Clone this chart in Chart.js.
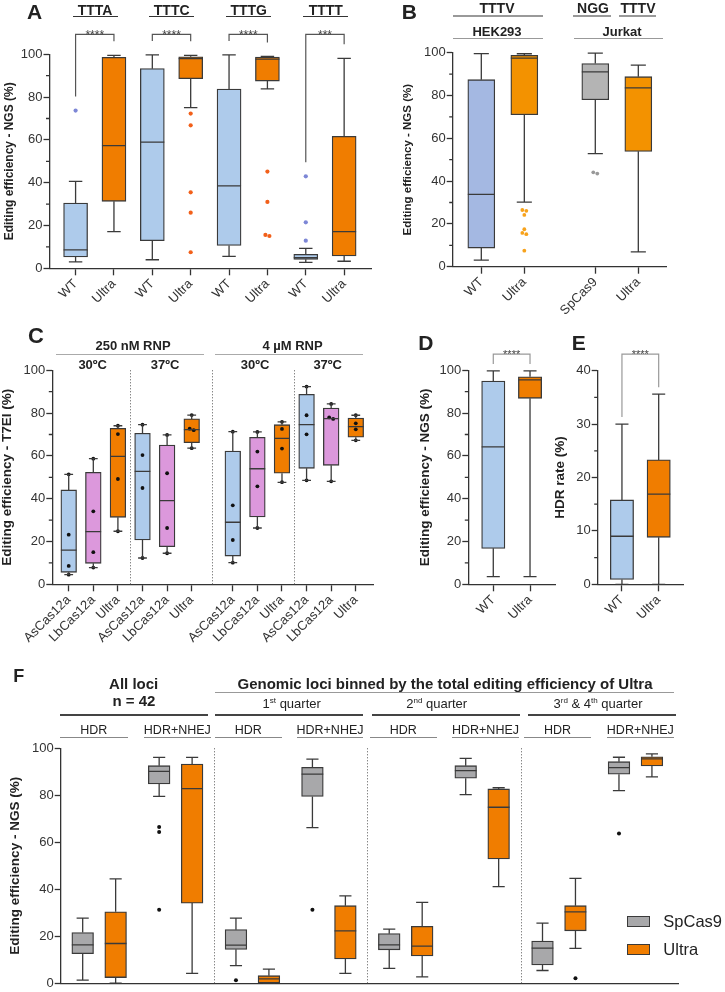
<!DOCTYPE html>
<html>
<head>
<meta charset="utf-8">
<script src="https://cdn.jsdelivr.net/npm/chart.js@4.4.1/dist/chart.umd.min.js"></script>
<style>
  body { margin: 0; background: #fff; }
  #fig { position: relative; width: 725px; height: 992px; overflow: hidden;
         font-family: 'Liberation Sans', Arial, sans-serif; color: #222; }
  #fig canvas { position: absolute; }
  .t { position: absolute; line-height: 1; white-space: nowrap; }
  .r { position: absolute; }
  .sw { position: absolute; box-sizing: border-box; border: 1.3px solid #3a3a3a; }
  sup { font-size: 0.62em; line-height: 0; }
</style>
</head>
<body>
<div id="fig"></div>
<script>
// ---- data ----

// A: PAM variants, WT vs Ultra
const aLabels = ['WT', 'Ultra', 'WT', 'Ultra', 'WT', 'Ultra', 'WT', 'Ultra'];
const aGroups = ['TTTA', 'TTTC', 'TTTG', 'TTTT'];
const aStars = ['****', '****', '****', '***'];
const aLow  = [3.0, 17.1, 4.0, 75.1, 5.6, 83.8, 2.8, 3.3];
const aQ1   = [5.3, 31.3, 12.9, 88.6, 10.7, 87.5, 4.2, 5.8];
const aMed  = [8.6, 57.3, 59.0, 98.0, 38.5, 97.7, 5.0, 17.1];
const aQ3   = [30.5, 98.6, 93.3, 98.8, 83.8, 98.7, 6.5, 61.7];
const aHigh = [40.6, 99.5, 99.7, 99.5, 99.7, 99.0, 9.3, 98.1];
const aOut  = [[73.7], [], [], [72.3, 66.8, 35.5, 26.0, 7.5], [], [45.2, 31.0, 15.6, 15.1], [43.0, 21.5, 12.9], []];

// B: TTTV in HEK293 and Jurkat
const bLabels = ['WT', 'Ultra', 'SpCas9', 'Ultra'];
const bLow  = [3.1, 30.2, 52.8, 6.9];
const bQ1   = [8.7, 71.0, 78.0, 53.9];
const bMed  = [33.8, 97.5, 91.0, 83.6];
const bQ3   = [87.4, 98.8, 94.9, 88.8];
const bHigh = [99.6, 99.5, 99.8, 94.2];
const bOut  = [[], [26.5, 26.1, 24.2, 17.5, 15.8, 15.2, 7.5], [44.1, 43.5], []];

// C: T7EI, RNP dose x temperature
const cLabels = ['AsCas12a', 'LbCas12a', 'Ultra', 'AsCas12a', 'LbCas12a', 'Ultra',
                 'AsCas12a', 'LbCas12a', 'Ultra', 'AsCas12a', 'LbCas12a', 'Ultra'];
const cLow  = [4.5, 7.8, 24.8, 12.3, 14.5, 63.6, 10.1, 26.3, 47.6, 48.6, 48.1, 67.3];
const cQ1   = [5.6, 9.8, 31.3, 20.7, 17.6, 66.2, 13.2, 31.5, 51.9, 54.2, 55.6, 68.7];
const cMed  = [16.0, 24.6, 59.8, 52.8, 39.1, 72.3, 29.0, 54.0, 68.2, 74.6, 77.4, 73.7];
const cQ3   = [44.1, 52.3, 72.9, 70.6, 65.1, 77.3, 62.3, 68.7, 74.6, 88.8, 82.4, 77.7];
const cHigh = [51.4, 58.7, 74.1, 74.6, 69.8, 79.1, 71.3, 71.2, 75.9, 92.4, 84.3, 79.0];
const cPoints = [[51.4, 23.2, 8.6, 4.5], [58.7, 34.1, 15.0, 7.8], [74.1, 70.2, 49.2, 24.8],
                 [74.6, 60.4, 45.0, 12.3], [69.8, 51.9, 26.3, 14.5], [79.1, 72.7, 72.0, 63.6],
                 [71.3, 36.9, 20.7, 10.1], [71.2, 62.0, 45.8, 26.3], [75.9, 72.6, 63.4, 47.7],
                 [92.4, 79.0, 70.1, 48.6], [84.3, 78.0, 77.3, 48.1], [79.0, 75.2, 72.4, 67.3]];

// D: NGS, WT vs Ultra
const dLabels = ['WT', 'Ultra'];
const dLow  = [3.6, 3.6];
const dQ1   = [16.8, 86.9];
const dMed  = [64.2, 95.5];
const dQ3   = [95.0, 97.0];
const dHigh = [99.7, 99.7];

// E: HDR rate
const eLabels = ['WT', 'Ultra'];
const eLow  = [0, 0];
const eQ1   = [0.9, 8.8];
const eMed  = [9.0, 16.9];
const eQ3   = [15.8, 23.3];
const eHigh = [30.0, 35.6];

// F: SpCas9 vs Ultra, HDR and HDR+NHEJ, all loci and binned
const fSeries = ['SpCas9', 'Ultra'];
const fLow  = [1.3, 0, 79.5, 4.2, 7.5, 0, 66.2, 4.2, 6.3, 2.7, 80.3, 41.1, 5.4, 14.8, 82.0, 87.8];
const fQ1   = [12.6, 2.4, 84.8, 34.1, 14.4, 0.1, 79.5, 10.3, 14.2, 11.6, 87.3, 52.9, 7.8, 22.3, 89.0, 92.5];
const fMed  = [16.3, 16.9, 90.2, 82.8, 16.2, 1.8, 89.0, 22.3, 16.3, 15.8, 90.5, 74.9, 14.9, 30.4, 91.8, 95.5];
const fQ3   = [21.6, 30.4, 92.6, 93.3, 22.8, 3.2, 91.9, 33.0, 21.1, 24.2, 92.6, 82.7, 17.9, 33.0, 94.3, 96.4];
const fHigh = [27.7, 44.4, 96.1, 96.1, 27.7, 6.0, 95.4, 37.2, 23.0, 34.4, 95.7, 83.2, 25.6, 44.6, 96.2, 97.6];
const fOut  = [[], [], [66.5, 64.4, 31.3], [], [1.3], [], [31.3], [], [], [], [], [], [], [2.1], [63.7], []];

// ---- styling ----
const FONT = "'Liberation Sans', Arial, sans-serif";
const STROKE = '#3a3a3a';
const BLUE = '#aecbeb', ORANGE = '#f07d00', PINK = '#dc98dc', GRAY = '#a8a8aa';
Chart.defaults.font.family = FONT;
Chart.defaults.color = '#333';

const fig = document.getElementById('fig');

function text(str, x, base, size, bold, align) {
  const d = document.createElement('div');
  d.className = 't';
  d.innerHTML = str;
  d.style.fontSize = size + 'px';
  d.style.fontWeight = bold ? 'bold' : 'normal';
  d.style.top = (base - 0.8465 * size) + 'px';
  d.style.left = x + 'px';
  if (align !== 'left') d.style.transform = 'translateX(-50%)';
  fig.appendChild(d);
}

function rule(x1, x2, y, color, w = 1.5) {
  const d = document.createElement('div');
  d.className = 'r';
  d.style.left = x1 + 'px';
  d.style.width = (x2 - x1) + 'px';
  d.style.top = (y - w / 2) + 'px';
  d.style.height = w + 'px';
  d.style.background = color;
  fig.appendChild(d);
}

// box plot = floating bar (q1..q3) + whiskers/median drawn from the scales
function boxPanel(p) {
  const c = document.createElement('canvas');
  c.width = p.box.w; c.height = p.box.h;
  c.style.left = p.box.x + 'px';
  c.style.top = p.box.y + 'px';
  fig.appendChild(c);

  const padLeft = p.titleX - p.box.x - p.titleSize / 2;
  const yWidth = p.area.left - p.box.x - padLeft;
  const xHeight = p.box.y + p.box.h - p.area.bottom;
  const unitPx = (p.area.right - p.area.left) / (p.xmax - p.xmin);
  const ymax = p.ymax || 100;

  const bars = p.pos.map((x, i) => ({ x: x, y: [p.q1[i], p.q3[i]] }));
  const pts = [], ptCol = [];
  p.out.forEach((vals, i) => {
    vals.forEach((v, k) => {
      const near = vals.findIndex((w, j) => j !== k && Math.abs(w - v) < 1);
      const dx = near < 0 ? 0 : (k < near ? -2 : 2);
      pts.push({ x: p.pos[i] + dx / unitPx, y: v });
      ptCol.push(p.ptColors[i]);
    });
  });

  const extras = {
    id: 'boxExtras',
    afterDatasetsDraw(chart) {
      const ctx = chart.ctx, xs = chart.scales.x, ys = chart.scales.y, a = chart.chartArea;
      ctx.save();
      // dotted separators
      ctx.strokeStyle = '#555';
      ctx.lineWidth = 1;
      ctx.setLineDash([1, 2]);
      (p.seps || []).forEach(([i, j]) => {
        const x = Math.round((xs.getPixelForValue(p.pos[i]) + xs.getPixelForValue(p.pos[j])) / 2) + 0.5;
        ctx.beginPath(); ctx.moveTo(x, a.top); ctx.lineTo(x, a.bottom); ctx.stroke();
      });
      ctx.setLineDash([]);
      // whiskers + medians
      ctx.strokeStyle = STROKE;
      ctx.lineWidth = 1.3;
      const hw = p.bar / 2, cw = p.bar * 0.28;
      p.pos.forEach((v, i) => {
        const x = xs.getPixelForValue(v);
        const yl = ys.getPixelForValue(p.low[i]), yh = ys.getPixelForValue(p.high[i]);
        const y1 = ys.getPixelForValue(p.q1[i]), y3 = ys.getPixelForValue(p.q3[i]);
        const ym = ys.getPixelForValue(p.med[i]);
        ctx.beginPath();
        ctx.moveTo(x, y3); ctx.lineTo(x, yh);
        ctx.moveTo(x - cw, yh); ctx.lineTo(x + cw, yh);
        ctx.moveTo(x, y1); ctx.lineTo(x, yl);
        ctx.moveTo(x - cw, yl); ctx.lineTo(x + cw, yl);
        ctx.moveTo(x - hw, ym); ctx.lineTo(x + hw, ym);
        ctx.stroke();
      });
      // minor y ticks
      if (p.minor) {
        ctx.strokeStyle = '#333';
        ctx.beginPath();
        for (let v = p.minor; v < ymax; v += p.minor) {
          if (v % p.step === 0) continue;
          const y = ys.getPixelForValue(v);
          ctx.moveTo(a.left, y); ctx.lineTo(a.left - 3.5, y);
        }
        ctx.stroke();
      }
      // significance brackets
      (p.brackets || []).forEach(b => {
        const top = ys.getPixelForValue(p.brTop);
        const xi = xs.getPixelForValue(p.pos[b.i]), xj = xs.getPixelForValue(p.pos[b.j]);
        const mi = Math.max(p.high[b.i], ...p.out[b.i]);
        const mj = Math.max(p.high[b.j], ...p.out[b.j]);
        ctx.strokeStyle = p.brColor;
        ctx.lineWidth = 1.2;
        ctx.beginPath();
        ctx.moveTo(xi, ys.getPixelForValue(mi) - p.brGap);
        ctx.lineTo(xi, top); ctx.lineTo(xj, top);
        ctx.lineTo(xj, ys.getPixelForValue(mj) - p.brGap);
        ctx.stroke();
        ctx.fillStyle = '#444';
        ctx.font = p.starSize + 'px ' + FONT;
        ctx.textAlign = 'center';
        ctx.textBaseline = 'alphabetic';
        ctx.fillText(b.stars, (xi + xj) / 2, top + p.starSize * 0.36);
      });
      ctx.restore();
    }
  };

  return new Chart(c, {
    type: 'bar',
    data: {
      datasets: [
        { type: 'line', data: pts, showLine: false, pointRadius: p.ptRadius || 2,
          pointBorderWidth: 0, pointBackgroundColor: ptCol, order: 0 },
        { type: 'bar', data: bars, backgroundColor: p.fills, borderColor: STROKE,
          borderWidth: 1.3, borderSkipped: false, barThickness: p.bar, order: 1 }
      ]
    },
    options: {
      responsive: false, animation: false, devicePixelRatio: 1, events: [],
      layout: { padding: { left: padLeft, top: p.area.top - p.box.y,
                           right: p.box.x + p.box.w - p.area.right, bottom: 0 } },
      plugins: { legend: { display: false }, tooltip: { enabled: false } },
      scales: {
        x: {
          type: 'linear', min: p.xmin, max: p.xmax, offset: false,
          border: { color: '#333', width: 1.3 },
          grid: { drawOnChartArea: false, offset: false, drawTicks: p.showX !== false,
                  tickLength: 7, tickColor: '#333', tickWidth: 1.3 },
          afterBuildTicks: s => { s.ticks = p.pos.map(v => ({ value: v })); },
          ticks: { display: p.showX !== false, autoSkip: false, minRotation: 45, maxRotation: 45,
                   font: { size: 13 }, color: '#333', padding: 1,
                   callback: (v, i) => p.labels[i] },
          afterFit: s => { s.height = xHeight; }
        },
        y: {
          min: 0, max: ymax,
          border: { color: '#333', width: 1.3 },
          grid: { drawOnChartArea: false, tickLength: 6, tickColor: '#333', tickWidth: 1.3 },
          ticks: { stepSize: p.step, font: { size: 13 }, color: '#333', padding: 1 },
          title: { display: true, text: p.title, color: '#222', padding: 0,
                   font: { size: p.titleSize, weight: 'bold', lineHeight: 1 } },
          afterFit: s => { s.width = yWidth; }
        }
      }
    },
    plugins: [extras]
  });
}

const abFill = l => l === 'WT' ? BLUE : ORANGE;
const cFill = l => l === 'AsCas12a' ? BLUE : l === 'LbCas12a' ? PINK : ORANGE;

// ---- panel A ----
boxPanel({
  box: { x: 0, y: 0, w: 375, h: 330 }, area: { left: 49.5, top: 54.3, right: 372, bottom: 268.3 },
  titleX: 9.5, titleSize: 12, title: 'Editing efficiency - NGS (%)',
  labels: aLabels, pos: [0, 1, 2, 3, 4, 5, 6, 7], xmin: -0.68, xmax: 7.7, bar: 24,
  low: aLow, q1: aQ1, med: aMed, q3: aQ3, high: aHigh, out: aOut,
  fills: aLabels.map(abFill), ptColors: aLabels.map(l => l === 'WT' ? '#7d87d6' : '#f2601a'),
  ptRadius: 2.1, step: 20, minor: 10,
  brackets: aGroups.map((g, k) => ({ i: 2 * k, j: 2 * k + 1, stars: aStars[k] })),
  brTop: 109.3, brGap: 14, brColor: '#555', starSize: 12
});

// ---- panel B ----
boxPanel({
  box: { x: 375, y: 0, w: 350, h: 330 }, area: { left: 452.7, top: 52.7, right: 666.7, bottom: 266.7 },
  titleX: 408, titleSize: 11.5, title: 'Editing efficiency - NGS (%)',
  labels: bLabels, pos: [0, 1, 2.65, 3.65], xmin: -0.665, xmax: 4.31, bar: 27,
  low: bLow, q1: bQ1, med: bMed, q3: bQ3, high: bHigh, out: bOut,
  fills: ['#a4b8e2', '#f39200', '#b4b4b4', '#f39200'],
  ptColors: ['#f7a21b', '#f7a21b', '#999', '#f7a21b'], ptRadius: 1.9, step: 20, minor: 10
});

// ---- panel C ----
boxPanel({
  box: { x: 0, y: 305, w: 395, h: 350 }, area: { left: 52.3, top: 370.3, right: 373, bottom: 584.3 },
  titleX: 7, titleSize: 13.5, title: 'Editing efficiency - T7EI (%)',
  labels: cLabels, pos: [0, 1, 2, 3, 4, 5, 6.67, 7.67, 8.67, 9.67, 10.67, 11.67],
  xmin: -0.667, xmax: 12.37, bar: 15.7,
  low: cLow, q1: cQ1, med: cMed, q3: cQ3, high: cHigh, out: cPoints,
  fills: cLabels.map(cFill), ptColors: cLabels.map(() => '#111'), ptRadius: 1.9,
  step: 20, minor: 10, seps: [[2, 3], [5, 6], [8, 9]]
});

// ---- panel D ----
boxPanel({
  box: { x: 395, y: 305, w: 165, h: 350 }, area: { left: 468.3, top: 370.3, right: 555, bottom: 584.3 },
  titleX: 425, titleSize: 13.5, title: 'Editing efficiency - NGS (%)',
  labels: dLabels, pos: [0, 1], xmin: -0.68, xmax: 1.68, bar: 23.3,
  low: dLow, q1: dQ1, med: dMed, q3: dQ3, high: dHigh, out: [[], []],
  fills: dLabels.map(abFill), ptColors: ['#111', '#111'], step: 20, minor: 10,
  brackets: [{ i: 0, j: 1, stars: '****' }], brTop: 107.6, brGap: 7, brColor: '#999', starSize: 11
});

// ---- panel E ----
boxPanel({
  box: { x: 546, y: 305, w: 179, h: 350 }, area: { left: 597.7, top: 370.7, right: 683.3, bottom: 584.3 },
  titleX: 560, titleSize: 13.5, title: 'HDR rate (%)',
  labels: eLabels, pos: [0, 1], xmin: -0.66, xmax: 1.67, bar: 23.3, ymax: 40,
  low: eLow, q1: eQ1, med: eMed, q3: eQ3, high: eHigh, out: [[], []],
  fills: eLabels.map(abFill), ptColors: ['#111', '#111'], step: 10, minor: 5,
  brackets: [{ i: 0, j: 1, stars: '****' }], brTop: 43.1, brGap: 7, brColor: '#999', starSize: 11
});

// ---- panel F ----
const fPos = [0, 1, 2.32, 3.32, 4.65, 5.65, 6.97, 7.97, 9.3, 10.3, 11.62, 12.62, 13.95, 14.95, 16.27, 17.27];
boxPanel({
  box: { x: 0, y: 640, w: 725, h: 352 }, area: { left: 60.7, top: 748.3, right: 678.3, bottom: 987 },
  titleX: 15, titleSize: 13.5, title: 'Editing efficiency - NGS (%)',
  labels: fPos.map((v, i) => fSeries[i % 2]), pos: fPos, xmin: -0.667, xmax: 18.07, bar: 21.7,
  showX: false,
  low: fLow, q1: fQ1, med: fMed, q3: fQ3, high: fHigh, out: fOut,
  fills: fPos.map((v, i) => i % 2 ? ORANGE : GRAY), ptColors: fPos.map(() => '#111'),
  step: 20, seps: [[3, 4], [7, 8], [11, 12]]
});

// ---- panel letters and headers ----
text('A', 27, 18.3, 21, true, 'left');
text('B', 401.7, 18.3, 21, true, 'left');
text('C', 28, 343.3, 22, true, 'left');
text('D', 418.3, 350, 21, true, 'left');
text('E', 571.7, 350, 21, true, 'left');
text('F', 13.3, 682.3, 18, true, 'left');

[95, 171.7, 248.7, 325.8].forEach((x, k) => {
  text(aGroups[k], x, 15, 14, true);
  rule(x - 22.5, x + 22.5, 16.7, '#333', 1.5);
});

text('TTTV', 497, 13.3, 14, true);   rule(453, 543, 15.8, '#999');
text('HEK293', 497, 35.7, 13, true); rule(453, 543, 38.4, '#999');
text('NGG', 593, 13.3, 14, true);    rule(573, 611, 15.8, '#999');
text('TTTV', 638, 13.3, 14, true);   rule(619, 656, 15.8, '#999');
text('Jurkat', 622, 35.7, 13, true); rule(574, 663, 38.4, '#999');

text('250 nM RNP', 133, 350, 13, true); rule(56, 204, 354.3, '#aaa');
text('4 µM RNP', 292.5, 350, 13, true); rule(215, 363, 354.3, '#aaa');
[[92.7, '30ºC'], [165, '37ºC'], [255, '30ºC'], [327.7, '37ºC']].forEach(([x, s]) => text(s, x, 369.3, 13, true));

text('All loci', 133.7, 689, 15, true);
text('n = 42', 134, 706, 15, true);
rule(60, 208, 715, '#444');
text('Genomic loci binned by the total editing efficiency of Ultra', 445, 689, 15, true);
rule(215, 674, 692.7, '#999');
text('1<sup>st</sup> quarter', 291.7, 708, 13, false); rule(215, 362.7, 715, '#444');
text('2<sup>nd</sup> quarter', 436.7, 708, 13, false); rule(372, 520, 715, '#444');
text('3<sup>rd</sup> &amp; 4<sup>th</sup> quarter', 598, 708, 13, false); rule(527.7, 675.7, 715, '#444');
const fSub = [[60, 127.7, 'HDR'], [144, 210.7, 'HDR+NHEJ'], [215, 281.7, 'HDR'], [296.7, 363.3, 'HDR+NHEJ'],
              [370, 436.7, 'HDR'], [452, 519, 'HDR+NHEJ'], [524.3, 590.7, 'HDR'], [606.7, 674, 'HDR+NHEJ']];
fSub.forEach(([x1, x2, s]) => {
  text(s, (x1 + x2) / 2, 735, 12.5, false);
  rule(x1, x2, 737.4, '#888', 1.3);
});

// legend for F
[[GRAY, 916], [ORANGE, 944.3]].forEach(([col, y], k) => {
  const d = document.createElement('div');
  d.className = 'sw';
  d.style.left = '626.7px'; d.style.top = y + 'px';
  d.style.width = '23.3px'; d.style.height = '10.7px';
  d.style.background = col;
  fig.appendChild(d);
  text(fSeries[k], 663.3, y + 10.7, 16.5, false, 'left');
});
</script>
</body>
</html>
